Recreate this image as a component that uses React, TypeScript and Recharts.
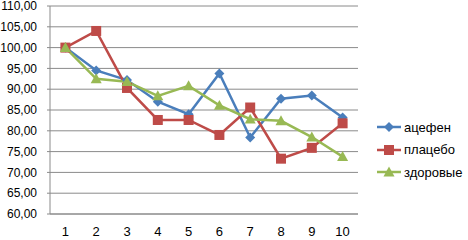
import React from 'react';
import { LineChart, Line, XAxis, YAxis, CartesianGrid } from 'recharts';

const categories = [1, 2, 3, 4, 5, 6, 7, 8, 9, 10];
const acefen = [100, 94.5, 92.2, 87, 84, 93.8, 78.4, 87.7, 88.5, 83.2];
const placebo = [100, 104, 90.3, 82.6, 82.6, 79, 85.6, 73.3, 75.9, 81.8];
const healthy = [100, 92.5, 91.8, 88.4, 90.8, 86.1, 82.8, 82.4, 78.5, 73.8];
const yTicks = [60, 65, 70, 75, 80, 85, 90, 95, 100, 105, 110];
const boundaryTicks = [0, 1, 2, 3, 4, 5, 6, 7, 8, 9, 10];

const seriesNames = ['ацефен', 'плацебо', 'здоровые'];
const colors = ['#4A7EBB', '#BE4B48', '#98B954'];

const data = categories.map((c, i) => ({
  x: c,
  a: acefen[i],
  p: placebo[i],
  h: healthy[i],
}));

const Diamond = (props: any) => {
  const { cx, cy, fill } = props;
  if (cx == null || cy == null) return null;
  const r = 5;
  return <path d={`M${cx},${cy - r}L${cx + r},${cy}L${cx},${cy + r}L${cx - r},${cy}Z`} fill={fill} />;
};
const Square = (props: any) => {
  const { cx, cy, fill } = props;
  if (cx == null || cy == null) return null;
  const r = 5;
  return <rect x={cx - r} y={cy - r} width={2 * r} height={2 * r} fill={fill} />;
};
const Triangle = (props: any) => {
  const { cx, cy, fill } = props;
  if (cx == null || cy == null) return null;
  const r = 5.5;
  return <path d={`M${cx},${cy - r}L${cx + r},${cy + r * 0.8}L${cx - r},${cy + r * 0.8}Z`} fill={fill} />;
};

const markers = [Diamond, Square, Triangle];

const LegendBox = () => (
  <div
    style={{
      position: 'absolute',
      left: 377,
      top: 116,
      fontFamily: '"Liberation Sans", Arial, sans-serif',
      fontSize: 13,
      color: '#000',
    }}
  >
    {seriesNames.map((n, i) => {
      const M = markers[i];
      return (
        <div key={n} style={{ display: 'flex', alignItems: 'center', height: 22.5 }}>
          <svg width={26} height={14}>
            <line x1={0} y1={7} x2={24} y2={7} stroke={colors[i]} strokeWidth={2.5} />
            <M cx={12} cy={7} fill={colors[i]} />
          </svg>
          <span style={{ marginLeft: 1 }}>{n}</span>
        </div>
      );
    })}
  </div>
);

const fmt = (v: number) => v.toFixed(2).replace('.', ',');
const tickStyle = { fontFamily: '"Liberation Sans", Arial, sans-serif', fontSize: 12, fill: '#000' };
const xTickStyle = { fontFamily: '"Liberation Sans", Arial, sans-serif', fontSize: 13, fill: '#000' };

export default function App() {
  return (
    <div style={{ position: 'absolute', left: 0, top: 0, width: 468, height: 240, background: '#fff' }}>
      <LineChart width={468} height={240} data={data} margin={{ top: 6, right: 110, bottom: 0, left: 0 }}>
        <CartesianGrid vertical={false} stroke="#8a8a8a" strokeWidth={1} />
        <XAxis
          xAxisId="b"
          type="number"
          dataKey="x"
          domain={[0, 10]}
          ticks={boundaryTicks}
          tick={false}
          tickSize={6}
          axisLine={false}
          tickLine={{ stroke: '#9a9a9a' }}
          height={0}
        />
        <XAxis
          dataKey="x"
          padding={{ left: 15.4, right: 15.4 }}
          tickLine={false}
          axisLine={{ stroke: '#8a8a8a' }}
          tick={xTickStyle}
          tickSize={8}
          tickMargin={5}
          height={26}
        />
        <YAxis
          domain={[60, 110]}
          ticks={yTicks}
          tickFormatter={fmt}
          tick={tickStyle}
          width={50}
          tickSize={3}
          tickMargin={10}
          axisLine={{ stroke: '#8a8a8a' }}
          tickLine={{ stroke: '#8a8a8a' }}
          interval={0}
        />
        <Line dataKey="a" name={seriesNames[0]} stroke={colors[0]} strokeWidth={2.5} dot={<Diamond fill={colors[0]} />} isAnimationActive={false} />
        <Line dataKey="p" name={seriesNames[1]} stroke={colors[1]} strokeWidth={2.5} dot={<Square fill={colors[1]} />} isAnimationActive={false} />
        <Line dataKey="h" name={seriesNames[2]} stroke={colors[2]} strokeWidth={2.5} dot={<Triangle fill={colors[2]} />} isAnimationActive={false} />
      </LineChart>
      <LegendBox />
    </div>
  );
}
